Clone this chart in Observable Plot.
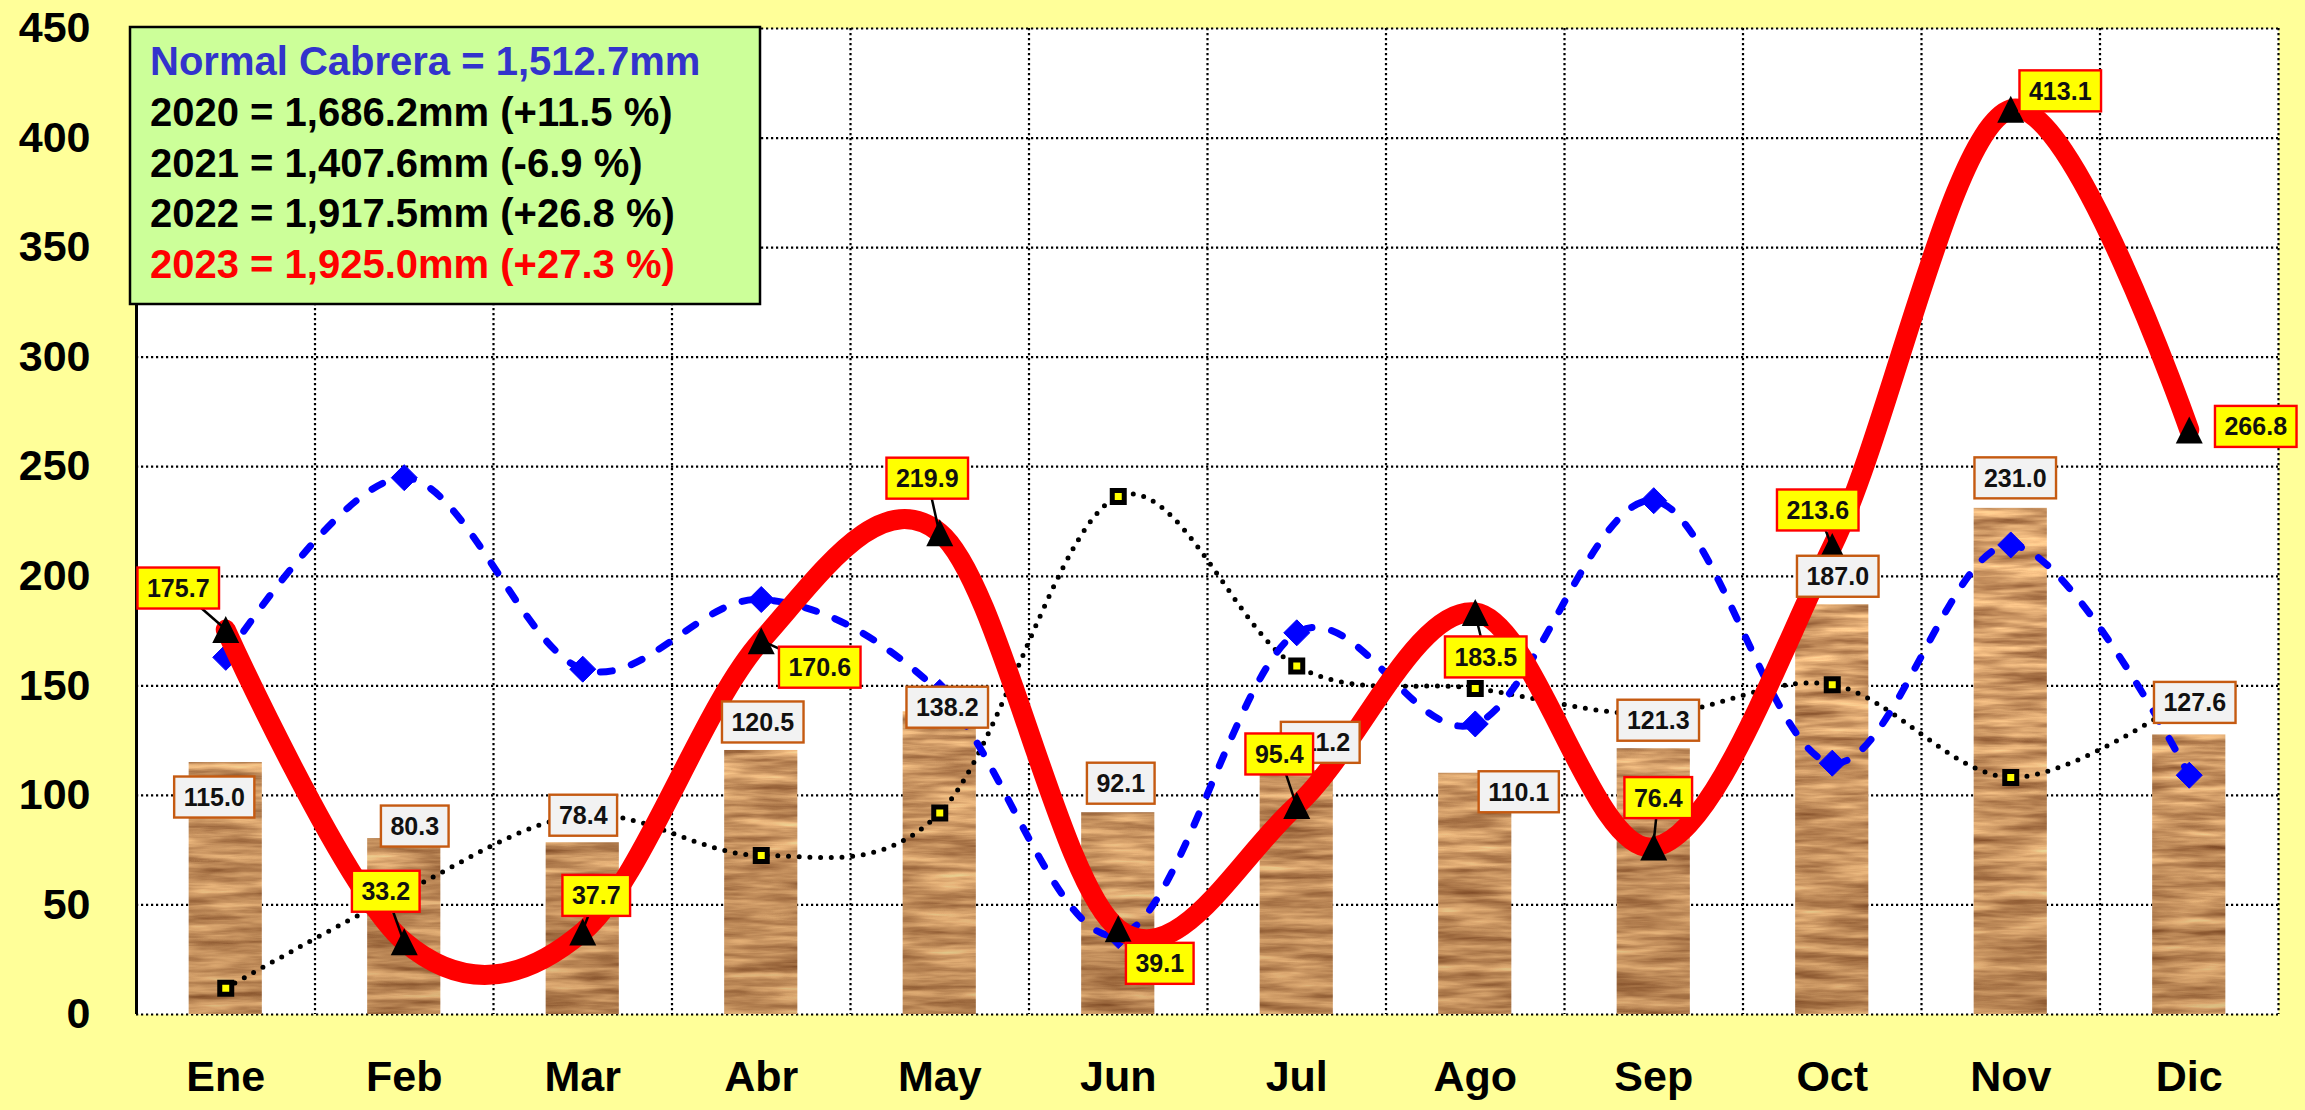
<!DOCTYPE html>
<html><head><meta charset="utf-8">
<script src="https://cdn.jsdelivr.net/npm/d3@7"></script>
<script src="https://cdn.jsdelivr.net/npm/@observablehq/plot@0.6"></script>
<style>
html,body{margin:0;padding:0;background:#FFFF99;overflow:hidden;}
#chart{position:relative;width:2305px;height:1110px;}
</style></head><body>
<svg width="0" height="0" style="position:absolute">
 <defs>
  <filter id="woodNoise" filterUnits="userSpaceOnUse" x="0" y="0" width="2305" height="1110" color-interpolation-filters="sRGB">
    <feTurbulence type="fractalNoise" baseFrequency="0.012 0.11" numOctaves="4" seed="5" result="n"/>
    <feColorMatrix in="n" type="matrix" values="0.75 0 0 0 0.45  0.75 0 0 0 0.24  0.6 0 0 0 0.11  0 0 0 0 1"/>
  </filter>
  <linearGradient id="woodShade" gradientUnits="userSpaceOnUse" x1="0" y1="650" x2="0" y2="1014">
    <stop offset="0" stop-color="#5a2e0a" stop-opacity="0"/>
    <stop offset="1" stop-color="#5a2e0a" stop-opacity="0.22"/>
  </linearGradient>
  <pattern id="wood" patternUnits="userSpaceOnUse" x="0" y="0" width="2305" height="1110">
    <rect width="2305" height="1110" filter="url(#woodNoise)"/>
    <rect width="2305" height="1110" fill="url(#woodShade)"/>
  </pattern>
 </defs>
</svg>
<div id="chart"></div>
<script>
// ---- data ----
const months = ["Ene","Feb","Mar","Abr","May","Jun","Jul","Ago","Sep","Oct","Nov","Dic"];
const normal = [115.0, 80.3, 78.4, 120.5, 138.2, 92.1, 111.2, 110.1, 121.3, 187.0, 231.0, 127.6];
const y2021 = [12, 56, 91, 72.6, 92, 236.4, 159, 148.8, 137, 150.5, 108.2, 145];
const y2022 = [163, 245, 157.6, 189.4, 147, 36, 174.2, 132.6, 234.5, 114.7, 214.3, 109.2];
const y2023 = [175.7, 33.2, 37.7, 170.6, 219.9, 39.1, 95.4, 183.5, 76.4, 213.6, 413.1, 266.8];
const yTicks = [0, 50, 100, 150, 200, 250, 300, 350, 400, 450];
const normalLabel = "Normal Cabrera";
const legendYears = ["2020", "2021", "2022", "2023"];
const legendTotals = [1686.2, 1407.6, 1917.5, 1925.0];

// ---- layout-only nudges for data labels (px) ----
const redLabelOffsets = [[-47,-41],[-18,-50],[14,-36],[59,27],[-12,-54],[42,35],[-17,-51],[11,45],[5,-49],[-14,-36],[50,-18],[67,-3]];
const redLeader = [1,1,1,1,1,0,1,1,1,1,0,0];
const grayLabelOffsets = [[-11,35],[11,-12],[1,-27],[2,-28],[8,-4],[3,-29],[24,-28],[44,19],[5,-28],[6,-28],[5,-30],[6,-32]];

const W = 2305, H = 1110, mL = 136, mR = 27, mT = 28, mB = 96;
const FONT = "'Liberation Sans', Arial, Helvetica, sans-serif";
const idx = d3.range(months.length);
const cx = i => i + 0.5;
const barHalf = 0.205;

const tri = {draw(ctx){ const s = 27; ctx.moveTo(0, -s/2); ctx.lineTo(s/2, s/2); ctx.lineTo(-s/2, s/2); ctx.closePath(); }};
const diamond = {draw(ctx){ const h = 13; ctx.moveTo(0, -h); ctx.lineTo(h, 0); ctx.lineTo(0, h); ctx.lineTo(-h, 0); ctx.closePath(); }};
const square = {draw(ctx){ const h = 6; ctx.rect(-h, -h, 2*h, 2*h); }};

const grid = {stroke: "black", strokeWidth: 2.2, strokeDasharray: "2.2 2.8", strokeOpacity: 1};

const plot = Plot.plot({
  width: W, height: H,
  marginLeft: mL, marginRight: mR, marginTop: mT, marginBottom: mB,
  style: {background: "#FFFF99", fontFamily: FONT, fontWeight: "bold", color: "black", overflow: "visible"},
  x: {type: "linear", domain: [0, 12]},
  y: {domain: [0, 450]},
  marks: [
    Plot.frame({fill: "white", stroke: "none"}),
    Plot.ruleY(yTicks, grid),
    Plot.ruleX(d3.range(1, 13), grid),
    Plot.rect(idx, {x1: i => cx(i) - barHalf, x2: i => cx(i) + barHalf, y1: 0, y2: i => normal[i], fill: "url(#wood)"}),
    Plot.line(idx, {x: cx, y: i => y2021[i], curve: "cardinal", stroke: "black", strokeWidth: 5, strokeDasharray: "0 10.7", strokeLinecap: "round"}),
    Plot.dot(idx, {x: cx, y: i => y2021[i], symbol: square, fill: "#FFFF00", stroke: "black", strokeWidth: 5}),
    Plot.line(idx, {x: cx, y: i => y2022[i], curve: "cardinal", stroke: "#0000FF", strokeWidth: 7, strokeDasharray: "12 20", strokeLinecap: "round"}),
    Plot.dot(idx, {x: cx, y: i => y2022[i], symbol: diamond, fill: "#0000FF", stroke: "#0000FF", strokeWidth: 1}),
    Plot.line(idx, {x: cx, y: i => y2023[i], curve: "cardinal", stroke: "#FF0000", strokeWidth: 20, strokeLinecap: "round", strokeLinejoin: "round"}),
    Plot.dot(idx, {x: cx, y: i => y2023[i], symbol: tri, fill: "black", stroke: "none"}),
    Plot.ruleX([0], {stroke: "black", strokeWidth: 3}),
    Plot.axisY(yTicks, {tickSize: 0, tickPadding: 46, fontSize: 43, fontWeight: "bold", label: null}),
    Plot.axisX(idx.map(cx), {tickSize: 0, tickPadding: 46, fontSize: 43, fontWeight: "bold", label: null, tickFormat: d => months[Math.floor(d)]})
  ]
});
document.getElementById("chart").appendChild(plot);

// ---- data labels & legend, positioned through Plot's scales ----
const sx = plot.scale("x"), sy = plot.scale("y");
const X = v => sx.apply(v), Y = v => sy.apply(v);
const svg = d3.select(plot);
const f1 = d3.format(".1f");

function labelBox(parent, px, py, text, fill, stroke) {
  const gg = parent.append("g");
  const r = gg.append("rect");
  const t = gg.append("text").attr("x", px).attr("y", py).attr("dy", "0.36em")
    .attr("text-anchor", "middle").attr("fill", "#111").text(text);
  const w = t.node().getComputedTextLength() + 19;
  r.attr("x", px - w/2).attr("y", py - 20.5).attr("width", w).attr("height", 41)
    .attr("fill", fill).attr("stroke", stroke).attr("stroke-width", 2.4);
}

const labels = svg.append("g").attr("font-family", FONT).attr("font-weight", "bold").attr("font-size", 25);
idx.forEach(i => {
  const [dx, dy] = grayLabelOffsets[i];
  labelBox(labels, X(cx(i)) + dx, Y(normal[i]) + dy, f1(normal[i]), "#F2F2F2", "#C55A11");
});
idx.forEach(i => {
  if (!redLeader[i]) return;
  const [dx, dy] = redLabelOffsets[i];
  const px = X(cx(i)), py = Y(y2023[i]);
  labels.append("line").attr("x1", px + dx).attr("y1", py + dy).attr("x2", px).attr("y2", py)
    .attr("stroke", "black").attr("stroke-width", 2.5);
});
idx.forEach(i => {
  const [dx, dy] = redLabelOffsets[i];
  labelBox(labels, X(cx(i)) + dx, Y(y2023[i]) + dy, f1(y2023[i]), "#FFFF00", "#FF0000");
});

const fmt = d3.format(",.1f");
const normalTotal = d3.sum(normal);
const pct = t => { const p = (t / normalTotal - 1) * 100; return (p >= 0 ? "+" : "-") + Math.abs(p).toFixed(1); };
const legendLines = [{text: `${normalLabel} = ${fmt(normalTotal)}mm`, color: "#3333CC"}]
  .concat(legendYears.map((yr, i) => ({
    text: `${yr} = ${fmt(legendTotals[i])}mm (${pct(legendTotals[i])} %)`,
    color: i === legendYears.length - 1 ? "#FF0000" : "#000000"
  })));
const lg = svg.append("g").attr("font-family", FONT).attr("font-weight", "bold").attr("font-size", 40).attr("text-anchor", "start");
lg.append("rect").attr("x", 130).attr("y", 27).attr("width", 630).attr("height", 277)
  .attr("fill", "#CCFF99").attr("stroke", "black").attr("stroke-width", 2.5);
legendLines.forEach((l, k) => {
  lg.append("text").attr("x", 150).attr("y", 75 + k * 50.8).attr("text-anchor", "start").attr("fill", l.color).text(l.text);
});
</script>
</body></html>
